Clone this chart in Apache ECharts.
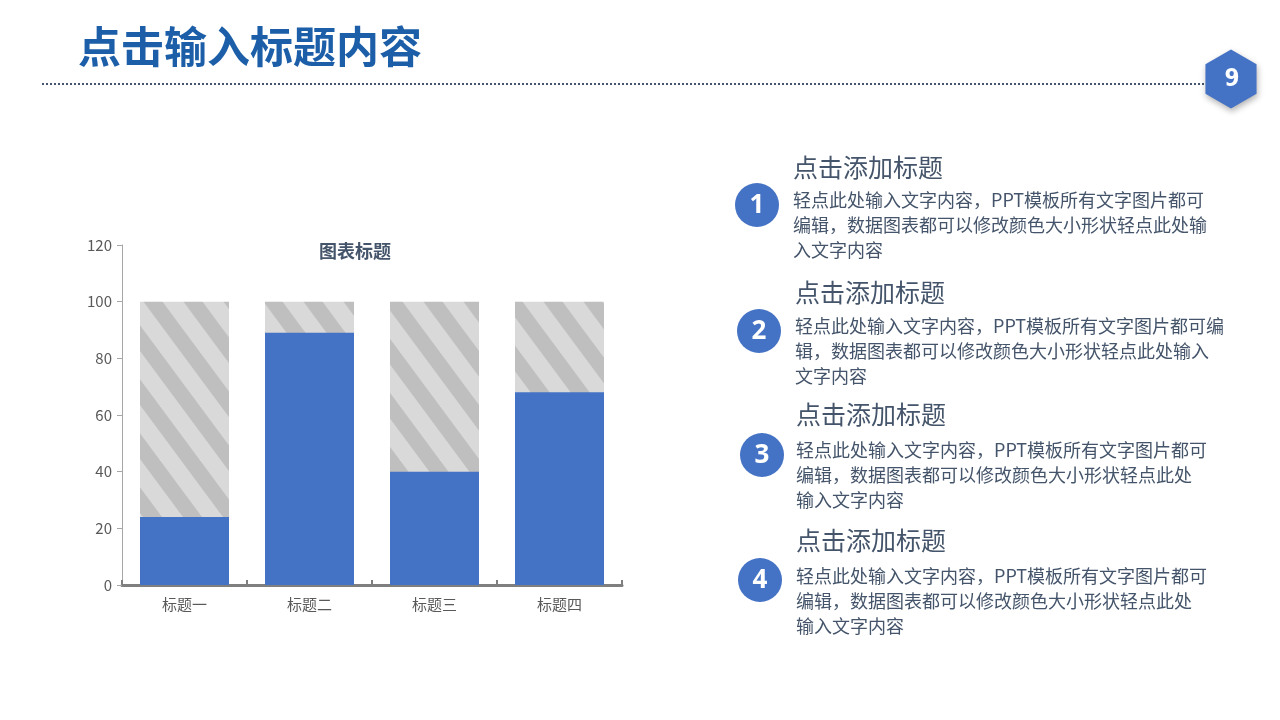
<!DOCTYPE html>
<html>
<head>
<meta charset="utf-8">
<title>点击输入标题内容</title>
<script src="https://cdn.jsdelivr.net/npm/echarts@6/dist/echarts.min.js"></script>
<style>
html, body { margin: 0; padding: 0; width: 100%; height: 100%; overflow: hidden; background: #fff; }
#main { position: absolute; left: 0; top: 0; width: 1280px; height: 720px; }
</style>
</head>
<body>
<div id="main"></div>
<script type="text/javascript">
  // 数据
  var categories = ['标题一', '标题二', '标题三', '标题四'];
  var values = [24, 89, 40, 68];
  var totals = [100, 100, 100, 100];
  var yTicks = { min: 0, max: 120, interval: 20 };

  // 右侧文字
  var headings = ['点击添加标题', '点击添加标题', '点击添加标题', '点击添加标题'];
  var bodies = [
    ['轻点此处输入文字内容，PPT模板所有文字图片都可', '编辑，数据图表都可以修改颜色大小形状轻点此处输', '入文字内容'],
    ['轻点此处输入文字内容，PPT模板所有文字图片都可编', '辑，数据图表都可以修改颜色大小形状轻点此处输入', '文字内容'],
    ['轻点此处输入文字内容，PPT模板所有文字图片都可', '编辑，数据图表都可以修改颜色大小形状轻点此处', '输入文字内容'],
    ['轻点此处输入文字内容，PPT模板所有文字图片都可', '编辑，数据图表都可以修改颜色大小形状轻点此处', '输入文字内容']
  ];

  var FONT = '"Noto Sans CJK SC", "Noto Sans", sans-serif';
  var BLUE = '#4472c4';
  var TEXT = '#44546a';

  // 斜条纹贴图
  var stripe = document.createElement('canvas');
  stripe.width = 40;
  stripe.height = 54;
  (function () {
    var ctx = stripe.getContext('2d');
    ctx.fillStyle = '#d9d9d9';
    ctx.fillRect(0, 0, 40, 54);
    ctx.fillStyle = '#bfbfbf';
    [-80, -40, 0, 40, 80].forEach(function (o) {
      ctx.beginPath();
      ctx.moveTo(o, 0);
      ctx.lineTo(o + 19, 0);
      ctx.lineTo(o + 59, 54);
      ctx.lineTo(o + 40, 54);
      ctx.closePath();
      ctx.fill();
    });
  })();

  // 右侧编号块的位置
  var blocks = [
    { cx: 757, cy: 205, x: 793, hy: 167, by: 200 },
    { cx: 759, cy: 331, x: 795, hy: 292, by: 326 },
    { cx: 762, cy: 455, x: 796, hy: 414, by: 450 },
    { cx: 760, cy: 580, x: 796, hy: 540, by: 576 }
  ];

  var graphics = [
    {
      type: 'text', left: 78, top: 25,
      style: { text: '点击输入标题内容', fill: '#1c5fa8', font: 'bold 43px ' + FONT }
    },
    {
      type: 'line',
      shape: { x1: 42, y1: 84, x2: 1206, y2: 84 },
      style: { stroke: TEXT, lineWidth: 2, lineDash: [2, 2] }
    },
    {
      type: 'polygon',
      shape: {
        points: [-90, -30, 30, 90, 150, 210].map(function (a) {
          var r = a * Math.PI / 180;
          return [1231 + 29.5 * Math.cos(r), 79 + 29.5 * Math.sin(r)];
        })
      },
      style: { fill: BLUE, shadowBlur: 6, shadowOffsetX: 1, shadowOffsetY: 3, shadowColor: 'rgba(0,0,0,0.3)' }
    },
    {
      type: 'text', x: 1232, y: 80,
      style: { text: '9', fill: '#fff', font: 'bold 24px "Liberation Sans Narrow", "DejaVu Sans Condensed", sans-serif', align: 'center', verticalAlign: 'middle' }
    },
    {
      type: 'text', x: 355, y: 251,
      style: { text: '图表标题', fill: '#44546a', font: 'bold 18px ' + FONT, align: 'center', verticalAlign: 'middle' }
    }
  ];

  blocks.forEach(function (b, i) {
    graphics.push({
      type: 'circle', shape: { cx: b.cx, cy: b.cy, r: 22 }, style: { fill: BLUE }
    });
    graphics.push({
      type: 'text', x: b.cx, y: b.cy + 1,
      style: { text: String(i + 1), fill: '#fff', font: 'bold 26px "Open Sans", sans-serif', align: 'center', verticalAlign: 'middle' }
    });
    graphics.push({
      type: 'text', x: b.x, y: b.hy,
      style: { text: headings[i], fill: TEXT, font: '25px ' + FONT, verticalAlign: 'middle' }
    });
    bodies[i].forEach(function (line, j) {
      graphics.push({
        type: 'text', x: b.x, y: b.by + j * 25,
        style: { text: line, fill: TEXT, font: '18px ' + FONT, verticalAlign: 'middle' }
      });
    });
  });

  var myChart = echarts.init(document.getElementById('main'), null, { renderer: 'canvas' });

  var option = {
    backgroundColor: '#ffffff',
    animation: false,
    grid: { left: 122, right: 658, top: 245, bottom: 135 },
    xAxis: {
      type: 'category',
      data: categories,
      axisLine: { lineStyle: { color: '#7f7f7f', width: 3 } },
      axisTick: { show: true, inside: true, length: 5, lineStyle: { color: '#7f7f7f', width: 2 } },
      axisLabel: { color: '#595959', fontSize: 15, margin: 12, fontFamily: FONT }
    },
    yAxis: {
      type: 'value',
      min: yTicks.min,
      max: yTicks.max,
      interval: yTicks.interval,
      axisLine: { show: true, lineStyle: { color: '#a6a6a6', width: 1 } },
      axisTick: { show: true, length: 5, lineStyle: { color: '#a6a6a6' } },
      splitLine: { show: false },
      axisLabel: { color: '#595959', fontSize: 15, margin: 10, fontFamily: FONT }
    },
    series: [
      {
        name: '总计',
        type: 'bar',
        barWidth: 89,
        barGap: '-100%',
        z: 1,
        silent: true,
        itemStyle: { color: { image: stripe, repeat: 'repeat' } },
        data: totals
      },
      {
        name: '数值',
        type: 'bar',
        barWidth: 89,
        z: 2,
        itemStyle: { color: BLUE },
        data: values
      }
    ],
    graphic: graphics
  };

  myChart.setOption(option);
</script>
</body>
</html>
